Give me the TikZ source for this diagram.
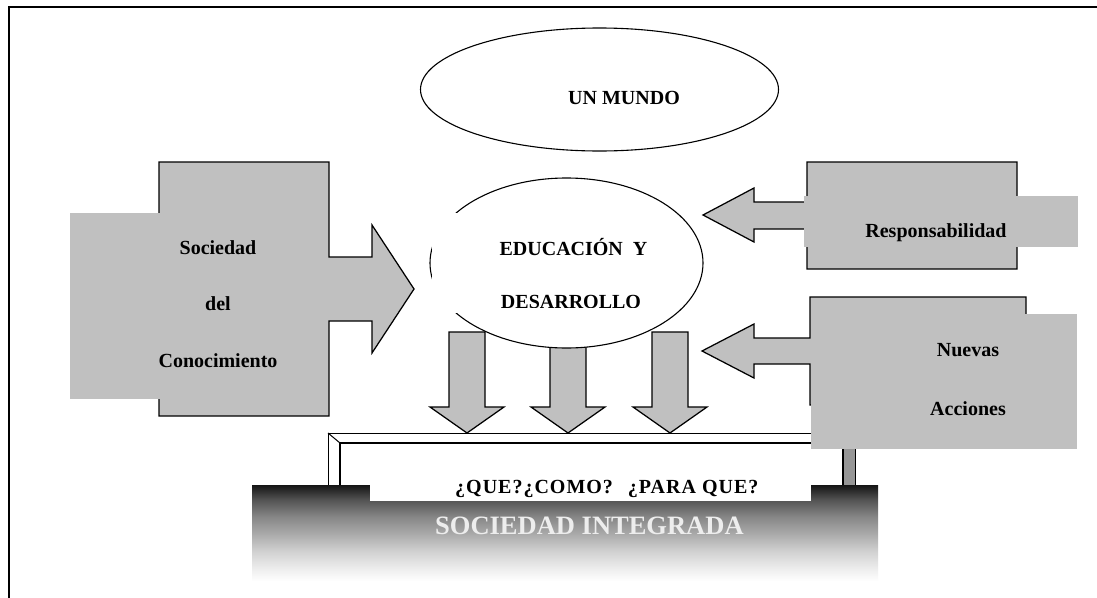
\documentclass[tikz,border=0pt]{standalone}
\usepackage{fontspec}
\setmainfont{Liberation Serif}
\definecolor{boxgray}{RGB}{192,192,192}
\definecolor{postgray}{RGB}{150,150,150}
\pgfdeclareverticalshading{barshade}{100bp}{color(0bp)=(white); color(30bp)=(white); color(36bp)=(black!7); color(44bp)=(black!18); color(52bp)=(black!33); color(60bp)=(black!47); color(68bp)=(black!67); color(75bp)=(black!92); color(100bp)=(black!92)}
\tikzset{
  outl/.style={draw=black, line width=1.25pt, line join=miter},
  grayshape/.style={outl, fill=boxgray},
  lbl/.style={font=\fontsize{20}{24}\selectfont\bfseries, inner sep=0pt, anchor=base},
}
\begin{document}
\begin{tikzpicture}[x=1pt,y=-1pt]
\useasboundingbox (0,0) rectangle (1097,597);
\fill[white] (0,0) rectangle (1097,597);
% outer frame (right and bottom sides lie outside the picture)
\draw[line width=2pt] (8.8,600) -- (8.8,7) -- (1100,7);

% UN MUNDO
\draw[outl, line width=1.1pt, fill=white] (599.5,89.5) ellipse [x radius=179, y radius=61.5];
\node[lbl] (mundo) at (624,104) {UN MUNDO};

% Sociedad del Conocimiento
\draw[grayshape] (159,162) -- (329,162) -- (329,257) -- (372,257) -- (372,225) -- (414,289)
  -- (372,353) -- (372,321) -- (329,321) -- (329,416) -- (159,416) -- cycle;
\fill[boxgray] (70,213) rectangle (320,399);
\node[lbl] (soc1) at (218,254) {Sociedad};
\node[lbl] (soc2) at (218,310.5) {del};
\node[lbl] (soc3) at (218,367) {Conocimiento};

% down arrows
\foreach \cx/\ty in {467/332,568/340,670/332}
  \draw[grayshape] (\cx-18,\ty) -- (\cx+18,\ty) -- (\cx+18,407) -- (\cx+37,407) -- (\cx,433)
    -- (\cx-37,407) -- (\cx-18,407) -- cycle;

% EDUCACION Y DESARROLLO
\draw[outl, line width=1.1pt, fill=white] (566.5,263) ellipse [x radius=136.5, y radius=85];
\fill[white] (431.8,213) rectangle (672,313);
\begin{scope}
  \clip (431.8,213) rectangle (672,307.2);
  \node[lbl] (edu1) at (573.5,255) {EDUCACIÓN\ \ Y};
  \node[lbl] (edu2) at (571,308.3) {DESARROLLO};
\end{scope}

% Responsabilidad
\draw[grayshape] (1017,162) -- (807,162) -- (807,202) -- (754,202) -- (754,188) -- (703,215)
  -- (754,242) -- (754,229) -- (807,229) -- (807,269) -- (1017,269) -- cycle;
\fill[boxgray] (804,196) rectangle (1078,247);
\node[lbl] (resp) at (936,237) {Responsabilidad};

% board
\fill[white] (328,433) rectangle (855,495);
\fill[postgray] (843,443) -- (855,433) -- (855,495) -- (843,495) -- cycle;
\draw[black, line width=1pt] (328,495) -- (328,433) -- (855,433) -- (855,495);
\draw[black, line width=1pt] (328,433) -- (340,443) (855,433) -- (843,443);
\draw[black, line width=1.5pt] (340,495) -- (340,443) -- (843,443) -- (843,495);

% base bar
\fill[shading=barshade] (252,485) rectangle (878,592);
\fill[white] (370,455) rectangle (811,500.5);
\node[font=\fontsize{20}{24}\selectfont\bfseries\addfontfeature{LetterSpace=5}, inner sep=0pt, anchor=base west]
  (preg) at (455,493) {¿QUE?¿COMO?\hspace{15pt}¿PARA QUE?};
\node[font=\fontsize{26.5}{30}\selectfont\bfseries, text=white!93!black, inner sep=0pt, anchor=base west]
  (integ) at (435,534) {SOCIEDAD INTEGRADA};

% Nuevas Acciones
\draw[grayshape] (1026,297) -- (810,297) -- (810,338) -- (754,338) -- (754,324) -- (702,351)
  -- (754,378) -- (754,364) -- (810,364) -- (810,405) -- (1026,405) -- cycle;
\fill[boxgray] (811,314) rectangle (1077,449);
\node[lbl] (nue1) at (968,356) {Nuevas};
\node[lbl] (nue2) at (968,415) {Acciones};
\end{tikzpicture}
\end{document}
